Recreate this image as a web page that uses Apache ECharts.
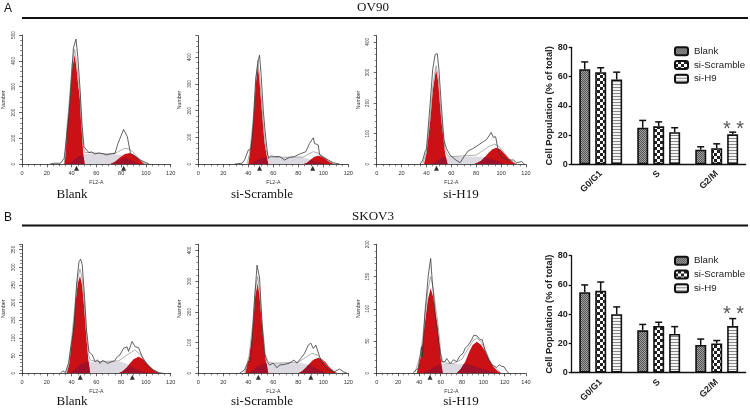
<!DOCTYPE html>
<html>
<head>
    <meta charset="utf-8">
    <title>Cell cycle</title>
    <script src="https://cdn.jsdelivr.net/npm/echarts@6/dist/echarts.min.js"></script>
    <style>
        html, body { margin: 0; padding: 0; background: #fff; }
        #main { width: 750px; height: 410px; }
    </style>
</head>
<body>
<div id="main"></div>
<script>
    // bar charts
    var phases = ['G0/G1', 'S', 'G2/M'];
    var groupNames = ['Blank', 'si-Scramble', 'si-H9'];
    var ov90Means = [[65, 25, 10], [63, 26, 11], [58, 22, 20.5]];
    var ov90Tops = [[70, 30, 12], [66, 29, 14], [63, 25, 22]];
    var skov3Means = [[55, 29, 19], [56, 32, 20], [40, 26.5, 32]];
    var skov3Tops = [[60, 33, 23], [62, 34.5, 22], [45, 31.5, 37]];

    // flow histograms, [FL2-A, Number]
    var a1Raw = [[23,2],[24,5],[26,4],[31,4],[34,23],[36,107],[38,200],[40,340],[41.5,450],[43.6,484],[45,417],[47,280],[48.5,150],[50,68],[51,62],[54,45],[56,48],[59,40],[62,44],[66,40],[68,36],[71,40],[75,42],[77.5,81],[79,88],[82,135],[85,107],[87.5,42],[91.5,30],[95.5,17],[101,4],[103,0]];
    var a1Fit = [[34,3],[35,40],[36,130],[38.5,265],[40.5,390],[42.5,445],[44,395],[45.5,320],[46.8,270],[47.5,200],[48.4,135],[49.3,72],[50.5,46],[52,40],[70,40],[76,44],[80,55],[83,62],[86,60],[89,50],[92,34],[95,18],[98,6],[101,0]];
    var a1G1 = [[34,0],[35,35],[36,120],[38.5,250],[40.5,370],[42.5,423],[44,370],[45.5,300],[46.8,250],[47.5,180],[48.4,120],[49.3,50],[50.5,0]];
    var a1S = [[36,0],[40,10],[44,25],[48,38],[50,40],[60,40],[70,40],[78,38],[84,28],[90,12],[95,0]];
    var a1G2 = [[71,0],[75,10],[79,26],[83,40],[87,44],[90,38],[93,26],[96,13],[99,0]];
    var a1Low = [[36,0],[40,10],[44,25],[48,37],[49.9,25],[50.5,0],null,[71,0],[75,8],[79,18],[82,24],[84,24],[90,12],[95,0]];
    var a1Marks = [44, 82];

    var a2Raw = [[29,1],[35,4],[37,16],[40,53],[42,56],[43,90],[44,150],[46,320],[48,390],[49,407],[50,352],[52,200],[53.5,120],[55,55],[56,22],[58,31],[61,29],[65,29],[69,16],[73,26],[77,29],[81,38],[86,47],[89,78],[92,99],[93,78],[96,72],[97,35],[100,26],[104,16],[108,6],[113,1]];
    var a2Fit = [[39,2],[40,8],[41,40],[42.5,102],[44,175],[46,318],[47.7,388],[49,328],[50,268],[51.5,180],[53,95],[54.4,50],[56,28],[60,26],[84,27],[88,38],[92,47],[96,42],[100,30],[104,14],[109,0]];
    var a2G1 = [[40,0],[41,35],[42.5,95],[44,165],[46,300],[47.7,370],[49,310],[50,250],[51.5,165],[53,80],[54.4,41],[56,0]];
    var a2S = [[41,0],[45,10],[50,22],[54,26],[70,26],[84,26],[90,18],[95,10],[102,0]];
    var a2G2 = [[84,0],[87,6],[90,18],[93,28],[96,32],[99,28],[102,19],[105,9],[109,0]];
    var a2Low = [[41,0],[45,10],[50,22],[54,26],[55,24],[56,0],null,[84,0],[87,6],[90,16],[95,10],[102,0]];
    var a2Marks = [49, 91.5];

    var a3Raw = [[35,1],[37,14],[39,43],[40,50],[41,100],[43,200],[45,310],[47,359],[48.7,361],[50,310],[52,190],[54,80],[56,52],[59,30],[63,16],[67,5],[71,30],[73.6,44],[77.7,52],[81.7,63],[85.7,74],[88.4,81],[92,104],[93.7,88],[95.6,90],[97.8,41],[100,25],[104.5,14],[110,14],[112.5,5],[116.5,9],[118.7,1]];
    var a3Fit = [[37,2],[38,8],[40,42],[41.5,100],[43,155],[45,252],[47.7,322],[49.5,283],[51,203],[52,155],[53.5,100],[55,46],[57,28],[60,25],[80,30],[85,44],[90,58],[95,66],[99,56],[103,35],[108,12],[113,0]];
    var a3G1 = [[38,0],[40,36],[41.5,90],[43,144],[45,240],[47.7,309],[49.5,270],[51,190],[52,144],[53.5,90],[55,36],[57,0]];
    var a3S = [[43,0],[47,8],[51,18],[55,25],[70,25],[86,25],[92,18],[98,9],[104,0]];
    var a3G2 = [[78,0],[81,5],[84,12],[87,24],[90,38],[93,49],[96,54],[99,50],[102,38],[105,24],[108,12],[112,0]];
    var a3Low = [[43,0],[47,8],[51,18],[55,25],[55.8,22],[57,0],null,[78,0],[81,5],[84,12],[87,24],[92,18],[98,9],[104,0]];
    var a3Marks = [48];

    var b1Raw = [[31,0],[33,7],[35,2],[37.5,28],[39,64],[40.5,68],[42,130],[44,250],[46,316],[47.3,323],[48.6,307],[50.5,215],[52,125],[54,61],[56.7,52],[59,33],[61,38],[63,28],[65,36],[67,33],[69,28],[71,31],[74.6,35],[77,47],[79,52],[82,71],[84.8,75],[86,62],[88.8,90],[91.4,75],[94,73],[97,47],[100.8,24],[105,11],[110,2],[114,0]];
    var b1Fit = [[36,2],[38,30],[40.4,110],[43,205],[45,270],[46.8,295],[48.5,270],[50,210],[52,115],[53.5,55],[55,38],[60,33],[78,35],[84,50],[91,66],[95,55],[100,31],[106,10],[112,0]];
    var b1G1 = [[36,0],[38,25],[40.4,99],[43,193],[45,255],[46.8,276],[48.5,250],[50,193],[52,99],[53.5,40],[55,0]];
    var b1S = [[38,0],[42,10],[46,22],[50,30],[54,33],[70,33],[80,33],[86,24],[92,12],[98,3],[103,0]];
    var b1G2 = [[78,0],[81,5],[84,14],[87,28],[90,40],[94,47],[97,42],[100,31],[103,20],[106,10],[109,3],[112,0]];
    var b1Low = [[38,0],[42,10],[46,22],[50,30],[53.7,33],[55,0],null,[78,0],[81,5],[84,14],[87,23],[92,12],[98,3],[103,0]];
    var b1Marks = [47, 89];

    var b2Raw = [[33,0],[37,11],[40,38],[42,43],[43,100],[45,240],[47,352],[48,356],[49,310],[51,160],[53,65],[55,38],[57,27],[60,33],[63,18],[65,27],[69,29],[73,33],[76.5,43],[79,33],[82,49],[85,65],[88,92],[90,98],[92,81],[94,92],[97,54],[100,29],[104,11],[109,5],[113,14],[116,5],[119,0]];
    var b2Fit = [[37,2],[40.5,55],[42,105],[43.7,170],[45.5,270],[47.5,315],[49,270],[51,170],[52,125],[53.6,62],[56,36],[60,33],[80,36],[86,52],[91,65],[96,58],[100,38],[105,18],[111,0]];
    var b2G1 = [[37.5,0],[40.5,49],[42,95],[43.7,157],[45.5,250],[47.5,293],[49,250],[51,157],[52,110],[53.6,49],[56,0]];
    var b2S = [[40,0],[44,12],[48,24],[52,30],[56,33],[70,33],[83,33],[90,25],[96,12],[103,0]];
    var b2G2 = [[80,0],[83,7],[86,18],[89,32],[92,44],[96,51],[99,46],[102,35],[105,20],[108,8],[111,0]];
    var b2Low = [[40,0],[44,12],[48,24],[52,30],[54.7,33],[56,0],null,[80,0],[83,7],[86,18],[88,28],[90,25],[96,12],[103,0]];
    var b2Marks = [48, 90];

    var b3Raw = [[34,1],[39,8],[42,41],[43,26],[45,90],[48.4,152],[50.6,178],[52,145],[55,90],[58,50],[61,18],[64,18],[65.6,23],[69,15],[72,21],[75,18],[78,27],[81,31],[83,39],[86,44],[89,52],[91,59],[94,58],[97,52],[99,52],[101.5,36],[105,21],[108,13],[112.5,9],[115,13],[117,11],[119.4,10],[122,3],[124,0]];
    var b3Fit = [[36,2],[41,28],[43,55],[45,84],[48,128],[50.6,150],[53,132],[55,105],[57,83],[59,52],[60,32],[62,18],[64,16],[72,15],[80,22],[85,36],[90,50],[94,55],[98,48],[102,36],[106,20],[110,10],[117,0]];
    var b3G1 = [[37.5,0],[41,23],[43,48],[45,75],[48,115],[50.6,132],[53,118],[55,95],[57,75],[59,45],[60,23],[62,0]];
    var b3S = [[43,0],[50,6],[55,11],[60,14],[65,15],[75,15],[85,14],[95,9],[105,4],[113,0]];
    var b3G2 = [[75,0],[79,7],[83,18],[87,34],[90,44],[94,49],[98,44],[101,36],[105,23],[109,11],[113,4],[117,0]];
    var b3Low = [[43,0],[50,6],[55,11],[60,14],[60.6,14],[62,0],null,[75,0],[79,7],[81.5,14],[85,14],[95,9],[105,4],[113,0]];
    var b3Marks = [50];

    var panels = [
        {left: 21, top: 35, width: 149.7, height: 129.3, xMax: 120, yMax: 500, yStep: 100, raw: a1Raw, fit: a1Fit, g1: a1G1, s: a1S, g2: a1G2, low: a1Low, marks: a1Marks},
        {left: 198.3, top: 35.7, width: 150, height: 128.6, xMax: 120, yMax: 480, yStep: 100, raw: a2Raw, fit: a2Fit, g1: a2G1, s: a2S, g2: a2G2, low: a2Low, marks: a2Marks},
        {left: 376.7, top: 35.7, width: 149.3, height: 128.6, xMax: 120, yMax: 420, yStep: 100, raw: a3Raw, fit: a3Fit, g1: a3G1, s: a3S, g2: a3G2, low: a3Low, marks: a3Marks},
        {left: 21, top: 244.3, width: 149.7, height: 129, xMax: 120, yMax: 365, yStep: 50, raw: b1Raw, fit: b1Fit, g1: b1G1, s: b1S, g2: b1G2, low: b1Low, marks: b1Marks},
        {left: 198.3, top: 244.3, width: 150, height: 129, xMax: 120, yMax: 420, yStep: 100, raw: b2Raw, fit: b2Fit, g1: b2G1, s: b2S, g2: b2G2, low: b2Low, marks: b2Marks},
        {left: 376.7, top: 244.3, width: 149.3, height: 129, xMax: 140, yMax: 200, yStep: 50, raw: b3Raw, fit: b3Fit, g1: b3G1, s: b3S, g2: b3G2, low: b3Low, marks: b3Marks}
    ];

    // bar fills
    function makePattern(w, h, draw) {
        var c = document.createElement('canvas');
        c.width = w;
        c.height = h;
        draw(c.getContext('2d'));
        return {image: c, repeat: 'repeat'};
    }
    var fills = [
        makePattern(2, 2, function (g) {
            g.fillStyle = '#a0a0a0';
            g.fillRect(0, 0, 2, 2);
            g.fillStyle = '#555';
            g.fillRect(0, 0, 1, 1);
            g.fillRect(1, 1, 1, 1);
        }),
        makePattern(6, 6, function (g) {
            g.fillStyle = '#222';
            g.fillRect(0, 0, 6, 6);
            g.fillStyle = '#fff';
            g.fillRect(0, 0, 3, 3);
            g.fillRect(3, 3, 3, 3);
        }),
        makePattern(3, 3, function (g) {
            g.fillStyle = '#f4f4f4';
            g.fillRect(0, 0, 3, 3);
            g.fillStyle = '#888';
            g.fillRect(0, 0, 3, 1);
        })
    ];

    var grid = [], xAxis = [], yAxis = [], series = [];
    var smallFont = {fontFamily: 'Liberation Sans', fontSize: 5.2, color: '#333'};

    function areaSeries(i, data, color, z) {
        return {
            type: 'line', xAxisIndex: i, yAxisIndex: i, data: data, showSymbol: false, silent: true,
            lineStyle: {width: 0}, areaStyle: {color: color, opacity: 1}, z: z
        };
    }

    panels.forEach(function (p, i) {
        grid.push({left: p.left, top: p.top, width: p.width, height: p.height, containLabel: false});
        xAxis.push({
            gridIndex: i, type: 'value', min: 0, max: p.xMax, interval: 20,
            name: 'FL2-A', nameLocation: 'middle', nameGap: 15.5,
            nameTextStyle: smallFont, splitLine: {show: false},
            axisLine: {lineStyle: {color: '#222', width: 0.8}},
            axisTick: {length: 3, lineStyle: {color: '#222', width: 0.7}},
            minorTick: {show: true, splitNumber: 4, length: 2, lineStyle: {color: '#333', width: 0.6}},
            axisLabel: {margin: 6, fontFamily: 'Liberation Sans', fontSize: 5.6, color: '#333'}
        });
        yAxis.push({
            gridIndex: i, type: 'value', min: 0, max: p.yMax, interval: p.yStep,
            name: 'Number', nameLocation: 'middle', nameGap: 16, nameRotate: 90,
            nameTextStyle: smallFont, splitLine: {show: false},
            axisLine: {show: true, lineStyle: {color: '#222', width: 0.8}},
            axisTick: {show: true, length: 3, lineStyle: {color: '#222', width: 0.7}},
            minorTick: {show: true, splitNumber: 5, length: 2, lineStyle: {color: '#333', width: 0.6}},
            axisLabel: {
                margin: 6, rotate: 90, fontFamily: 'Liberation Sans', fontSize: 4.6, color: '#333',
                showMaxLabel: p.yMax % p.yStep === 0
            }
        });
        series.push(areaSeries(i, p.s, '#dcd9e1', 2));
        series.push(areaSeries(i, p.g1, '#cc1116', 3));
        series.push(areaSeries(i, p.g2, '#cc1116', 3));
        series.push(areaSeries(i, p.low, '#a0102a', 4));
        series.push({
            type: 'line', xAxisIndex: i, yAxisIndex: i, data: p.fit, showSymbol: false, silent: true,
            lineStyle: {color: '#9a9a9a', width: 0.8}, z: 5
        });
        series.push({
            type: 'line', xAxisIndex: i, yAxisIndex: i, data: p.raw, showSymbol: false, silent: true,
            lineStyle: {color: '#3a3a3a', width: 0.8}, z: 6
        });
        series.push({
            type: 'scatter', xAxisIndex: i, yAxisIndex: i, silent: true, clip: false,
            data: p.marks.map(function (v) { return [v, 0]; }),
            symbol: 'triangle', symbolSize: 5, symbolOffset: [0, 4],
            itemStyle: {color: '#000'}, z: 7
        });
    });

    function addBars(idx, top, means, tops, legendTop) {
        grid.push({left: 571.7, top: top, width: 174, height: 117});
        xAxis.push({
            gridIndex: idx, type: 'category', data: phases,
            axisLine: {lineStyle: {color: '#111', width: 1.3}},
            axisTick: {alignWithLabel: true, length: 3, lineStyle: {color: '#111', width: 1.3}},
            axisLabel: {rotate: 45, margin: 8, interval: 0, fontFamily: 'Liberation Sans', fontWeight: 'bold', fontSize: 9, color: '#222'}
        });
        yAxis.push({
            gridIndex: idx, type: 'value', min: 0, max: 80, interval: 20,
            name: 'Cell Population (% of total)', nameLocation: 'middle', nameGap: 17, nameRotate: 90,
            nameTextStyle: {fontFamily: 'Liberation Sans', fontWeight: 'bold', fontSize: 9.4, color: '#222'},
            splitLine: {show: false},
            axisLine: {show: true, lineStyle: {color: '#111', width: 1.3}},
            axisTick: {show: true, length: 3, lineStyle: {color: '#111', width: 1.3}},
            axisLabel: {margin: 4, fontFamily: 'Liberation Sans', fontWeight: 'bold', fontSize: 9, color: '#222'}
        });
        groupNames.forEach(function (name, g) {
            series.push({
                type: 'bar', name: name, xAxisIndex: idx, yAxisIndex: idx, data: means[g],
                barWidth: 11, barGap: '45%', silent: true,
                itemStyle: {color: fills[g], borderColor: '#111', borderWidth: 1.6}, z: 3
            });
            series.push({
                type: 'custom', xAxisIndex: idx, yAxisIndex: idx, silent: true, clip: false, z: 2,
                data: means[g].map(function (m, c) { return [c, m, tops[g][c]]; }),
                encode: {x: 0, y: [1, 2]},
                renderItem: function (params, api) {
                    var from = api.coord([api.value(0), api.value(1)]);
                    var to = api.coord([api.value(0), api.value(2)]);
                    var x = from[0] + (g - 1) * 16;
                    var st = {stroke: '#111', lineWidth: 1.5};
                    return {
                        type: 'group', children: [
                            {type: 'line', shape: {x1: x, y1: from[1], x2: x, y2: to[1]}, style: st},
                            {type: 'line', shape: {x1: x - 3.5, y1: to[1], x2: x + 3.5, y2: to[1]}, style: st}
                        ]
                    };
                }
            });
        });
        return {
            data: groupNames, orient: 'vertical', left: 674, top: legendTop, padding: 0,
            itemWidth: 13, itemHeight: 8, itemGap: 3.7, selectedMode: false,
            textStyle: {fontFamily: 'Liberation Sans', fontSize: 9.7, color: '#222', padding: [0, 0, 0, 1]}
        };
    }

    var legends = [
        addBars(6, 47.3, ov90Means, ov90Tops, 46.3),
        addBars(7, 255.7, skov3Means, skov3Tops, 255.8)
    ];

    function label(text, x, y, font, color) {
        return {
            type: 'text', x: x, y: y, silent: true,
            style: {text: text, font: font, fill: color || '#111', textAlign: 'center', textVerticalAlign: 'middle'}
        };
    }
    function rule(y) {
        return {type: 'line', silent: true, shape: {x1: 22, y1: y, x2: 748, y2: y}, style: {stroke: '#111', lineWidth: 2}};
    }

    var serif = '13px "Liberation Serif"';
    var graphic = [
        label('A', 8, 9, '12px "Liberation Sans"'),
        label('B', 8, 218, '12px "Liberation Sans"'),
        label('OV90', 373, 8, serif),
        label('SKOV3', 373, 217, serif),
        rule(18),
        rule(225.5),
        label('Blank', 72, 195, serif),
        label('si-Scramble', 262, 195, serif),
        label('si-H19', 461, 195, serif),
        label('Blank', 72, 402, serif),
        label('si-Scramble', 262, 402, serif),
        label('si-H19', 461, 402, serif),
        label('* *', 733.5, 129, '20px "Liberation Sans"', '#555'),
        label('* *', 733.5, 314, '20px "Liberation Sans"', '#555')
    ];

    var chart = echarts.init(document.getElementById('main'), null, {renderer: 'canvas'});
    chart.setOption({
        animation: false,
        backgroundColor: '#fff',
        grid: grid,
        xAxis: xAxis,
        yAxis: yAxis,
        legend: legends,
        graphic: graphic,
        series: series
    });
</script>
</body>
</html>
